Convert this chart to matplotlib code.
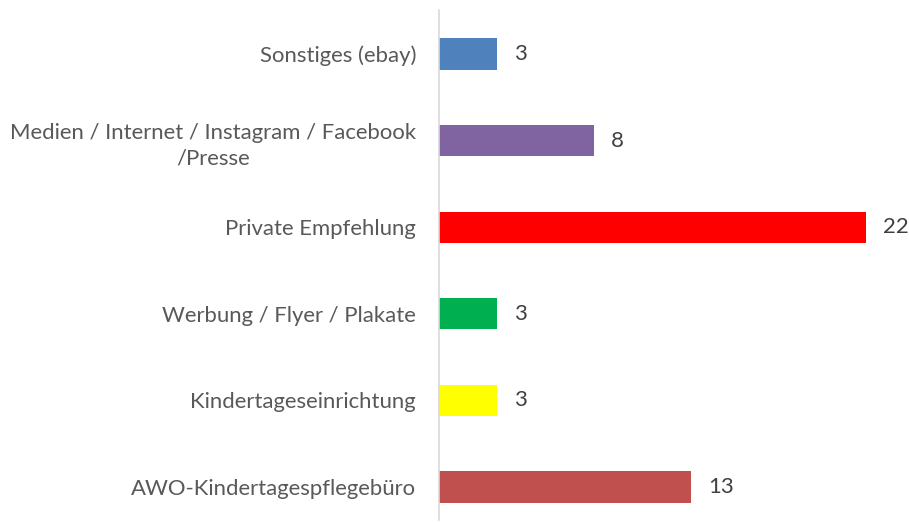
import matplotlib
matplotlib.use("Agg")
import matplotlib.pyplot as plt

categories = ["AWO-Kindertagespflegebüro", "Kindertageseinrichtung", "Werbung / Flyer / Plakate",
              "Private Empfehlung", "Medien / Internet / Instagram / Facebook\n/Presse", "Sonstiges (ebay)"]
values = [13, 3, 3, 22, 8, 3]
colors = ["#C0504D", "#FFFF00", "#00B050", "#FF0000", "#8064A2", "#4F81BD"]

plt.rcParams['font.family'] = ['Lato', 'DejaVu Sans']
txt = "#595959"

fig = plt.figure(figsize=(9.09, 5.22), dpi=100)
W, H = 909, 522
ax = fig.add_axes([439 / W, 2 / H, 466 / W, 510 / H])
y = list(range(len(categories)))
ax.barh(y, values, height=0.36, color=colors, zorder=2)
ax.set_xlim(0, 24)
ax.set_ylim(-0.38, 5.508)
ax.set_yticks(y)
ax.set_yticklabels(categories, fontsize=15.9, color=txt, multialignment='center', linespacing=1.35)
ax.tick_params(axis='y', length=0, pad=16.5)
ax.set_xticks([])
for sp in ['top', 'right', 'bottom']:
    ax.spines[sp].set_visible(False)
ax.spines['left'].set_color('#D9D9D9')
ax.spines['left'].set_linewidth(1.2)
for yi, v in zip(y, values):
    ax.annotate(str(v), (v, yi), xytext=(17, 0), textcoords='offset pixels',
                va='center', ha='left', fontsize=16, color='#404040')

fig.savefig("out.png", dpi=100)
